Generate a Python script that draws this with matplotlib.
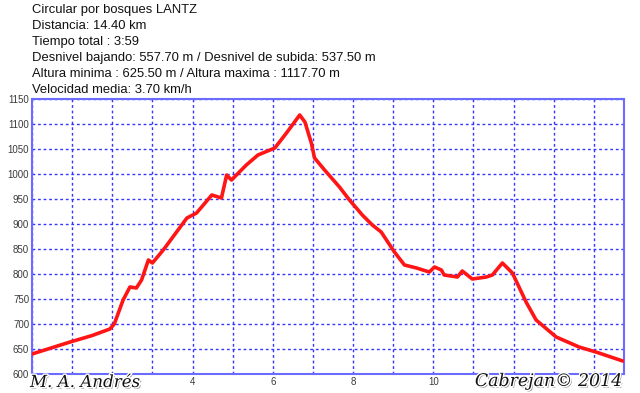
import matplotlib
matplotlib.use("Agg")
import matplotlib.pyplot as plt
import matplotlib.patheffects as pe
import numpy as np

plt.rcParams['font.family'] = ['Liberation Sans', 'DejaVu Sans']

info_lines = [
    "Circular por bosques LANTZ",
    "Distancia: 14.40 km",
    "Tiempo total : 3:59",
    "Desnivel bajando: 557.70 m / Desnivel de subida: 537.50 m",
    "Altura minima : 625.50 m / Altura maxima : 1117.70 m",
    "Velocidad media: 3.70 km/h",
]

dist_km = [0, 0.95, 1.5, 1.94, 2.05, 2.27, 2.44, 2.6, 2.73, 2.9, 3.0, 3.27, 3.86, 4.1,
           4.48, 4.72, 4.85, 4.97, 5.34, 5.63, 6.05, 6.34, 6.67, 6.8, 6.96, 7.04, 7.29,
           7.66, 7.91, 8.23, 8.48, 8.7, 9.03, 9.28, 9.58, 9.9, 10.03, 10.2, 10.27, 10.6,
           10.72, 10.97, 11.32, 11.47, 11.72, 11.97, 12.31, 12.56, 13.06, 13.63, 14.05, 14.72]
alt_m = [640, 664, 677, 690, 700, 748, 774, 772, 788, 828, 822, 848, 912, 922,
         958, 952, 998, 988, 1018, 1038, 1052, 1082, 1118, 1104, 1062, 1032, 1008,
         974, 948, 918, 898, 884, 844, 818, 812, 804, 814, 808, 798, 794,
         806, 790, 794, 798, 822, 802, 744, 708, 674, 654, 644, 626]

# x labels visible in the reference (others are covered by the watermarks)
x_ticks = [4, 6, 8, 10]
y_ticks = list(range(600, 1151, 50))

W, H = 640, 393
fig = plt.figure(figsize=(6.4, 3.93), dpi=100)
ax = fig.add_axes([32 / W, 1 - 374 / H, (624 - 32) / W, (374 - 99) / H])

ax.set_xlim(0, 14.75)
ax.set_ylim(600, 1150)
ax.set_xticks(np.arange(0, 15, 1), minor=True)
ax.set_xticks(x_ticks)
ax.set_yticks(y_ticks)
ax.grid(True, which='both', color='#3535ff', linestyle=(0, (2, 2)), linewidth=1.0)
ax.set_axisbelow(True)
for s in ax.spines.values():
    s.set_color('#6b6bff')
    s.set_linewidth(1.5)
ax.tick_params(which='both', length=0, labelsize=7, labelcolor='#3a3a3a', pad=2)

ax.plot(dist_km, alt_m, color='#ff1515', linewidth=2.6, solid_joinstyle='round',
        solid_capstyle='round', zorder=3)

for i, t in enumerate(info_lines):
    fig.text(32 / W, 1 - (12.7 + 16.1 * i) / H, t, fontsize=9.4, color='#111111',
             va='baseline', ha='left')

shadow = [pe.withSimplePatchShadow(offset=(1.2, -1.2), shadow_rgbFace='#888888', alpha=0.9),
          pe.withStroke(linewidth=2, foreground='white')]
fig.text(30 / W, 1 - 387 / H, "M. A. Andrés", fontsize=12, family='DejaVu Serif',
         style='italic', color='#111111', va='baseline', ha='left', path_effects=shadow)
fig.text(622 / W, 1 - 386 / H, "Cabrejan© 2014", fontsize=12.5, family='DejaVu Serif',
         style='italic', color='#111111', va='baseline', ha='right', path_effects=shadow)

fig.savefig("out.png", dpi=100)
